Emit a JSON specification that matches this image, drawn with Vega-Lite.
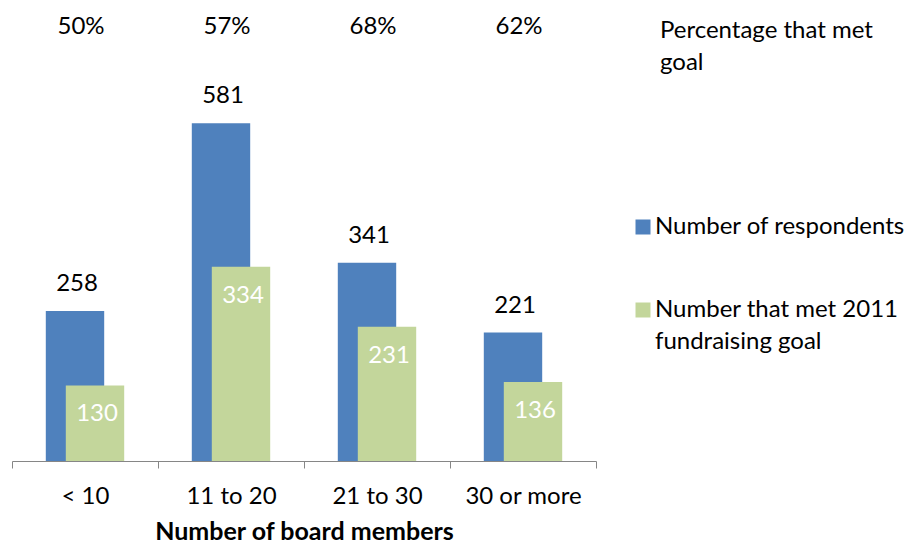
{
  "$schema": "https://vega.github.io/schema/vega-lite/v6.json",
  "width": 584,
  "height": 456,
  "autosize": "none",
  "padding": {"left": 12, "top": 5, "right": 318, "bottom": 83},
  "config": {
    "font": "Lato",
    "view": {"stroke": null},
    "legend": {
      "labelFont": "Lato",
      "labelFontSize": 24,
      "labelColor": "#000000",
      "symbolType": "square",
      "symbolSize": 225,
      "symbolStrokeWidth": 0,
      "labelOffset": 0,
      "padding": 0,
      "labelLimit": 400
    }
  },
  "data": {
    "values": [
      {"members": "< 10", "respondents": 258, "met": 130, "pct": "50%"},
      {"members": "11 to 20", "respondents": 581, "met": 334, "pct": "57%"},
      {"members": "21 to 30", "respondents": 341, "met": 231, "pct": "68%"},
      {"members": "30 or more", "respondents": 221, "met": 136, "pct": "62%"}
    ]
  },
  "encoding": {
    "x": {
      "field": "members",
      "type": "nominal",
      "sort": null,
      "scale": {"paddingInner": 0, "paddingOuter": 0},
      "axis": {
        "title": "Number of board members",
        "titleFont": "Lato",
        "titleFontSize": 25,
        "titleFontWeight": "bold",
        "titleColor": "#000000",
        "titlePadding": 11,
        "labelFont": "Lato",
        "labelFontSize": 24,
        "labelColor": "#000000",
        "labelAngle": 0,
        "labelPadding": 16,
        "tickBand": "extent",
        "tickSize": 7,
        "tickColor": "#868686",
        "domainColor": "#868686",
        "domainWidth": 1,
        "tickWidth": 1,
        "grid": false
      }
    }
  },
  "layer": [
    {
      "mark": {"type": "bar", "width": {"band": 0.4}, "xOffset": -10},
      "encoding": {
        "y": {"field": "respondents", "type": "quantitative", "scale": {"domain": [0, 784.4], "nice": false}, "axis": null},
        "color": {
          "datum": "Number of respondents",
          "scale": {"range": ["#4F81BD"]},
          "legend": {"title": null, "orient": "none", "legendX": 619, "legendY": 210}
        }
      }
    },
    {
      "mark": {"type": "bar", "width": {"band": 0.4}, "xOffset": 10},
      "encoding": {
        "y": {"field": "met", "type": "quantitative"},
        "color": {
          "datum": "Number that met 2011 fundraising goal",
          "scale": {"range": ["#C3D69B"]},
          "legend": {
            "title": null, "orient": "none", "legendX": 619, "legendY": 293,
            "labelExpr": "['Number that met 2011', 'fundraising goal']",
            "encode": {"labels": {"update": {"lineHeight": {"value": 32}}}}
          }
        }
      }
    },
    {
      "mark": {"type": "text", "fontSize": 24, "font": "Lato", "color": "#000000", "baseline": "middle", "dy": -27, "xOffset": -8},
      "encoding": {
        "y": {"field": "respondents", "type": "quantitative"},
        "text": {"field": "respondents", "type": "quantitative"}
      }
    },
    {
      "mark": {"type": "text", "fontSize": 24, "font": "Lato", "color": "#FFFFFF", "baseline": "middle", "dy": 29, "xOffset": 12},
      "encoding": {
        "y": {"field": "met", "type": "quantitative"},
        "text": {"field": "met", "type": "quantitative"}
      }
    },
    {
      "mark": {"type": "text", "fontSize": 24, "font": "Lato", "baseline": "middle", "xOffset": -4},
      "encoding": {
        "y": {"datum": 746, "type": "quantitative"},
        "text": {"field": "pct", "type": "nominal"},
        "color": {
          "datum": "Percentage that met goal",
          "scale": {"range": ["#000000"]},
          "legend": {
            "title": null, "orient": "none", "legendX": 624, "legendY": -18,
            "symbolOpacity": 0,
            "labelExpr": "['', 'Percentage that met', 'goal']",
            "encode": {"labels": {"update": {"lineHeight": {"value": 32}}}}
          }
        }
      }
    }
  ],
  "resolve": {"scale": {"color": "independent"}}
}
